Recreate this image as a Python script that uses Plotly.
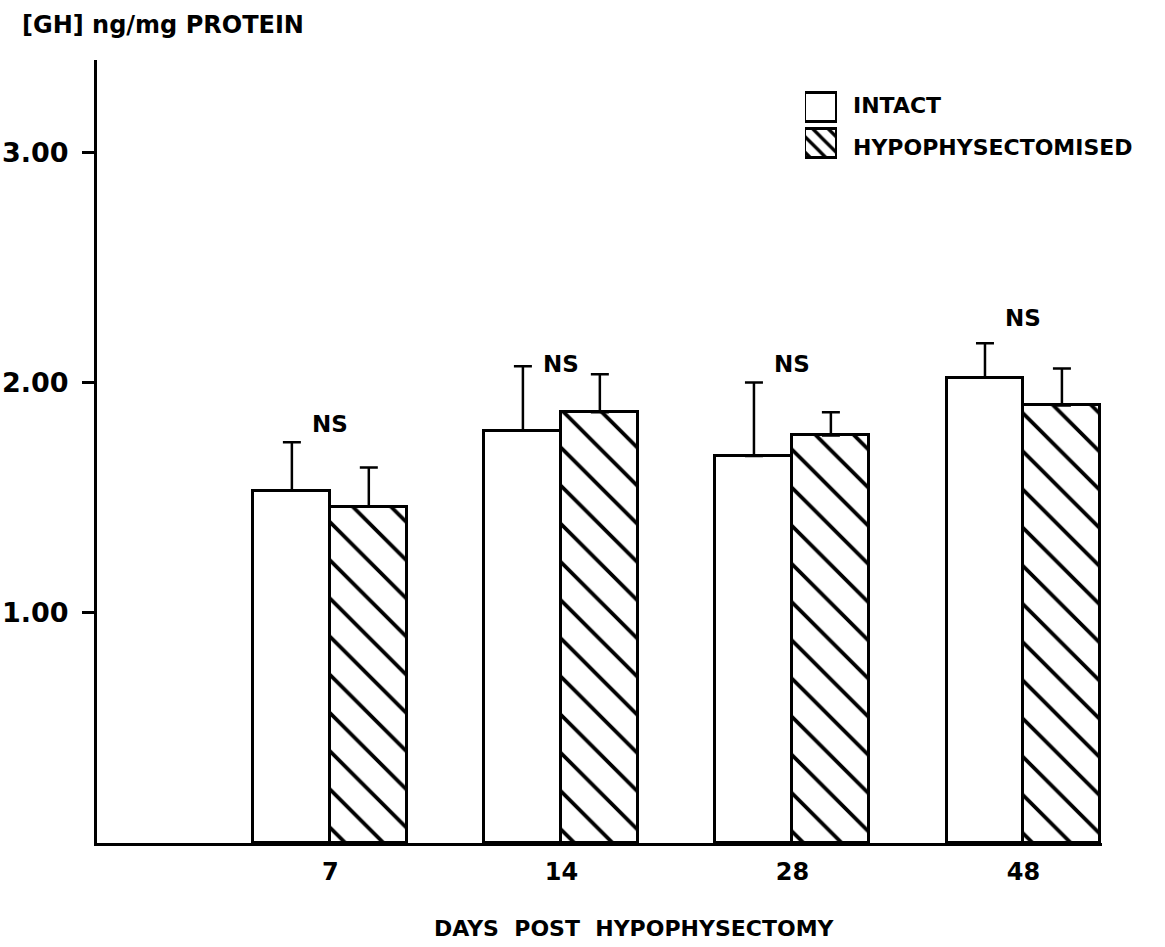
import plotly.graph_objects as go

# Growth hormone content by days after hypophysectomy
days = ["7", "14", "28", "48"]
intact_mean = [1.53, 1.79, 1.68, 2.02]
intact_sem = [0.21, 0.28, 0.32, 0.15]
hypox_mean = [1.46, 1.87, 1.77, 1.90]
hypox_sem = [0.17, 0.165, 0.10, 0.16]
ns_label_y = [1.82, 2.08, 2.08, 2.28]

y_ticks = [1, 2, 3]
y_tick_text = ["1.00", "2.00", "3.00"]

FONT = "DejaVu Sans"
BAR_W = 0.333
pos = list(range(len(days)))

# Plot area in pixels (left, right, top, bottom) used to place paper-anchored text
PX_L, PX_R, PX_T, PX_B = 97, 1102, 60, 843


def paper_x(px):
    return (px - PX_L) / (PX_R - PX_L)


def paper_y(py):
    return (PX_B - py) / (PX_B - PX_T)


hatch = dict(shape="\\", fgcolor="black", bgcolor="white", fgopacity=1,
             fillmode="replace", size=27, solidity=0.14)
err_style = dict(type="data", symmetric=False, color="black", thickness=2.5, width=9)

fig = go.Figure()

fig.add_trace(go.Bar(
    x=[p - BAR_W / 2 for p in pos], y=intact_mean, width=BAR_W,
    marker=dict(color="white", line=dict(color="black", width=3)),
    error_y=dict(array=intact_sem, arrayminus=[0] * len(days), **err_style),
    name="INTACT", showlegend=False,
))
fig.add_trace(go.Bar(
    x=[p + BAR_W / 2 for p in pos], y=hypox_mean, width=BAR_W,
    marker=dict(color="black", line=dict(color="black", width=3), pattern=hatch),
    error_y=dict(array=hypox_sem, arrayminus=[0] * len(days), **err_style),
    name="HYPOPHYSECTOMISED", showlegend=False,
))

# Key swatches drawn on a small auxiliary axis pair
legend_names = ["INTACT", "HYPOPHYSECTOMISED"]
fig.add_trace(go.Bar(
    x=[1, 1], y=[1, 0], orientation="h", width=0.82,
    marker=dict(color=["white", "black"], line=dict(color="black", width=3),
                pattern=dict(shape=["", "\\"], fgcolor="black", bgcolor="white",
                             fgopacity=1, fillmode="replace",
                             size=11, solidity=0.3)),
    xaxis="x2", yaxis="y2", showlegend=False, hoverinfo="skip",
))

for name, py in zip(legend_names, [105, 147]):
    fig.add_annotation(
        x=paper_x(851), y=paper_y(py), xref="paper", yref="paper",
        text=name, showarrow=False, xanchor="left", yanchor="middle",
        font=dict(family=FONT, size=22, color="black", weight="bold"),
    )

for p, ny in zip(pos, ns_label_y):
    fig.add_annotation(
        x=p, y=ny, text="NS", showarrow=False,
        font=dict(family=FONT, size=23, color="black", weight="bold"),
    )

fig.add_annotation(
    x=paper_x(20), y=paper_y(25), xref="paper", yref="paper",
    text="[GH] ng/mg PROTEIN", showarrow=False,
    xanchor="left", yanchor="middle",
    font=dict(family=FONT, size=24, color="black", weight="bold"),
)
fig.add_annotation(
    x=paper_x(634), y=paper_y(929), xref="paper", yref="paper",
    text="DAYS  POST  HYPOPHYSECTOMY", showarrow=False,
    xanchor="center", yanchor="middle",
    font=dict(family=FONT, size=22, color="black", weight="bold"),
)

fig.update_layout(
    width=1165, height=947,
    margin=dict(l=PX_L, r=1165 - PX_R, t=PX_T, b=947 - PX_B, autoexpand=False),
    paper_bgcolor="white", plot_bgcolor="white",
    barmode="overlay", bargap=0,
    xaxis=dict(
        range=[-1.01, 3.34], tickvals=pos, ticktext=days,
        showline=True, linecolor="black", linewidth=3,
        showgrid=False, zeroline=False, ticks="",
        ticklabelstandoff=5, automargin=False,
        tickfont=dict(family=FONT, size=24, color="black", weight="bold"),
    ),
    yaxis=dict(
        range=[0, 3.4], tickvals=y_ticks, ticktext=y_tick_text,
        showline=True, linecolor="black", linewidth=3,
        showgrid=False, zeroline=False,
        ticks="outside", ticklen=12, tickwidth=2.5, tickcolor="black",
        ticklabelstandoff=8, automargin=False,
        tickfont=dict(family=FONT, size=27, color="black", weight="bold"),
    ),
    xaxis2=dict(domain=[paper_x(805), paper_x(837)], range=[0, 1], visible=False,
                anchor="y2", fixedrange=True),
    yaxis2=dict(domain=[paper_y(161), paper_y(90)], range=[-0.5, 1.5], visible=False,
                anchor="x2", fixedrange=True),
)

fig.write_html("out.html")
